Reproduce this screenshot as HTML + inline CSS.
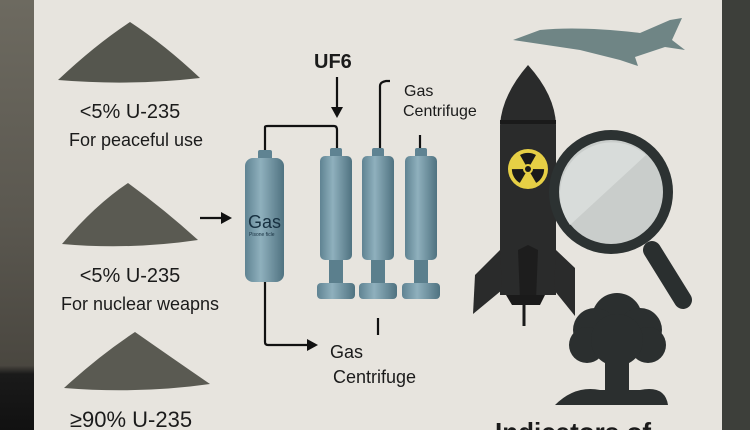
<!DOCTYPE html>
<html><head><style>
html,body{margin:0;padding:0;width:750px;height:430px;overflow:hidden;background:#3a3a36}
svg{display:block}
text{font-family:"Liberation Sans",sans-serif;fill:#1b1b1b}
</style></head><body>
<svg width="750" height="430" viewBox="0 0 750 430" xmlns="http://www.w3.org/2000/svg">
<defs>
<linearGradient id="cyl" x1="0" x2="1"><stop offset="0" stop-color="#5f8392"/><stop offset="0.4" stop-color="#8fb0bd"/><stop offset="1" stop-color="#4f7280"/></linearGradient>
<linearGradient id="bgl" x1="0" y1="0" x2="0" y2="1"><stop offset="0" stop-color="#6d6a60"/><stop offset="0.5" stop-color="#5b5850"/><stop offset="0.85" stop-color="#4a4740"/><stop offset="0.87" stop-color="#1a1a1a"/><stop offset="1" stop-color="#111"/></linearGradient>
</defs>
<rect x="0" y="0" width="36" height="430" fill="url(#bgl)"/>
<rect x="720" y="0" width="30" height="430" fill="#3d3f3a"/>
<rect x="34" y="0" width="688" height="430" fill="#e7e4de"/>
<path d="M58 80 Q95 45 130 22 Q165 45 200 78 Q130 86 58 80Z" fill="#55564e"/>
<path d="M62 244 Q95 205 128 183 Q165 210 198 240 Q130 250 62 244Z" fill="#5a5a52"/>
<path d="M64 388 Q100 355 135 332 Q175 360 210 384 Q140 394 64 388Z" fill="#5a5a52"/>
<g text-anchor="middle">
<text x="130" y="118" font-size="20">&lt;5% U-235</text>
<text x="136" y="146" font-size="18">For peaceful use</text>
<text x="130" y="282" font-size="20">&lt;5% U-235</text>
<text x="140" y="310" font-size="18">For nuclear weapns</text>
<text x="131" y="427" font-size="22">≥90% U-235</text>
</g>
<g stroke="#111" stroke-width="2.2" fill="none">
<line x1="200" y1="218" x2="226" y2="218"/>
<line x1="337" y1="77" x2="337" y2="112"/>
<path d="M265 152 V127 Q265 126 268 126 H334 Q337 126 337 130 V150"/>
<path d="M265 282 V342 Q265 345 268 345 H308"/>
<path d="M380 148 V86 Q380 82 386 81 H390"/>
<line x1="420" y1="135" x2="420" y2="150"/>
<line x1="378" y1="318" x2="378" y2="335"/>
</g>
<polygon points="232,218 221,212 221,224" fill="#111"/>
<polygon points="337,118 331,107 343,107" fill="#111"/>
<polygon points="318,345 307,339 307,351" fill="#111"/>
<text x="314" y="68" font-size="20" font-weight="bold">UF6</text>
<text x="404" y="96" font-size="16">Gas</text>
<text x="403" y="116" font-size="16">Centrifuge</text>
<text x="330" y="358" font-size="18">Gas</text>
<text x="333" y="383" font-size="18">Centrifuge</text>
<rect x="258" y="150" width="14" height="10" rx="2" fill="#5f8392"/>
<rect x="245" y="158" width="39" height="124" rx="8" fill="url(#cyl)"/>
<text x="248" y="228" font-size="18" style="fill:#173040">Gas</text>
<text x="249" y="236" font-size="5" style="fill:#173040">Pisone ficle</text>
<g>
<g transform="translate(320,0)">
<rect x="10" y="148" width="12" height="10" rx="2" fill="#5f8392"/>
<rect x="0" y="156" width="32" height="104" rx="5" fill="url(#cyl)"/>
<rect x="9" y="260" width="14" height="26" fill="#5b7f8d"/>
<rect x="-3" y="283" width="38" height="16" rx="4" fill="url(#cyl)"/>
</g>
<g transform="translate(362,0)">
<rect x="10" y="148" width="12" height="10" rx="2" fill="#5f8392"/>
<rect x="0" y="156" width="32" height="104" rx="5" fill="url(#cyl)"/>
<rect x="9" y="260" width="14" height="26" fill="#5b7f8d"/>
<rect x="-3" y="283" width="38" height="16" rx="4" fill="url(#cyl)"/>
</g>
<g transform="translate(405,0)">
<rect x="10" y="148" width="12" height="10" rx="2" fill="#5f8392"/>
<rect x="0" y="156" width="32" height="104" rx="5" fill="url(#cyl)"/>
<rect x="9" y="260" width="14" height="26" fill="#5b7f8d"/>
<rect x="-3" y="283" width="38" height="16" rx="4" fill="url(#cyl)"/>
</g>
</g>
<path d="M513 40 L540 30 Q580 26 640 33 L670 20 L682 18 L672 40 L685 50 L665 47 L635 57 L638 66 L620 60 L580 50 Z" fill="#6f8585"/>
<path d="M528 65 Q555 95 556 125 L556 295 L500 295 L500 125 Q502 95 528 65Z" fill="#2a2b2b"/>
<rect x="500" y="120" width="56" height="4" fill="#1a1a1a"/>
<path d="M500 250 L475 275 L473 314 L502 290Z" fill="#2a2b2b"/>
<path d="M556 250 L575 268 L575 316 L554 290Z" fill="#2a2b2b"/>
<path d="M518 250 L528 245 L538 250 L536 300 L520 300Z" fill="#1d1d1d"/>
<path d="M506 295 H545 L540 305 H512Z" fill="#1a1a1a"/>
<line x1="524" y1="305" x2="524" y2="326" stroke="#1a1a1a" stroke-width="3"/>
<circle cx="528" cy="169" r="20" fill="#e6cf45"/>
<g fill="#1a1a1a">
<path d="M528 169 L520 155 A16 16 0 0 1 536 155Z"/>
<path d="M528 169 L520 155 A16 16 0 0 1 536 155Z" transform="rotate(120 528 169)"/>
<path d="M528 169 L520 155 A16 16 0 0 1 536 155Z" transform="rotate(240 528 169)"/>
</g>
<circle cx="528" cy="169" r="5" fill="#e6cf45"/><circle cx="528" cy="169" r="3" fill="#1a1a1a"/>
<line x1="652" y1="250" x2="683" y2="300" stroke="#2a2f2f" stroke-width="18" stroke-linecap="round"/>
<circle cx="611" cy="192" r="62" fill="#2c3232"/>
<circle cx="611" cy="192" r="52" fill="#c9cdcb"/>
<path d="M570 225 A52 52 0 0 1 646 155 Z" fill="#d8dcda"/>
<g fill="#2b2f2f">
<circle cx="617" cy="318" r="25"/><circle cx="595" cy="330" r="22"/><circle cx="640" cy="330" r="22"/>
<circle cx="587" cy="345" r="18"/><circle cx="648" cy="345" r="18"/><circle cx="617" cy="340" r="26"/>
<rect x="605" y="350" width="24" height="45"/>
<path d="M555 405 Q575 385 600 390 L640 390 Q665 385 668 405Z"/>
</g>
<text x="495" y="441" font-size="26" font-weight="bold">Indicators of</text>
</svg>
</body></html>
